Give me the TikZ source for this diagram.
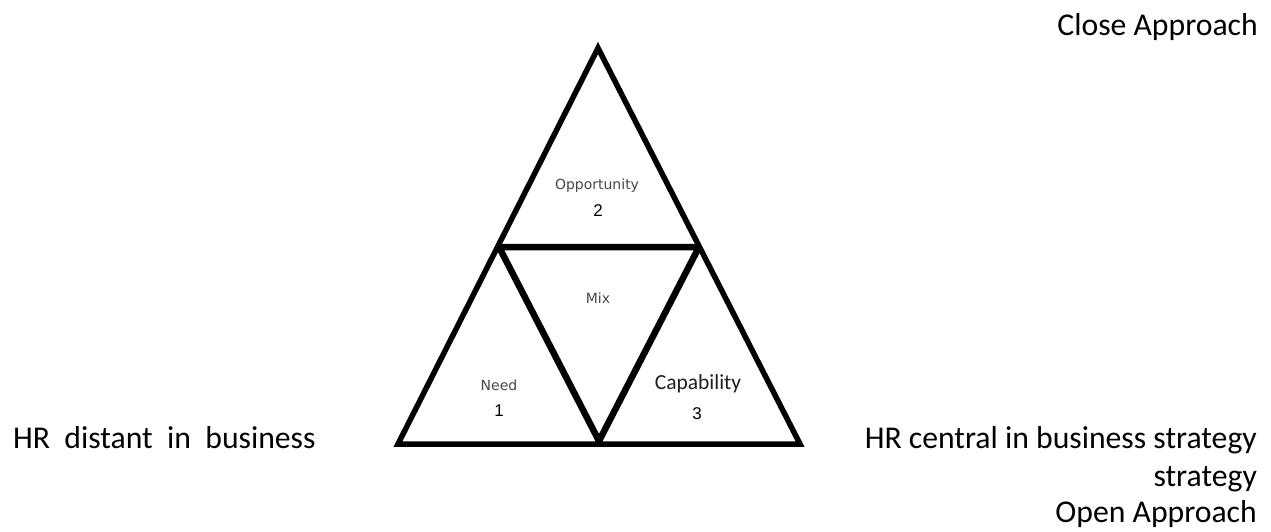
\documentclass[tikz,border=0pt]{standalone}
\usepackage{fontspec}
\setmainfont{Carlito}
\newfontfamily\smallfont{DejaVu Sans}
\newfontfamily\numfont{Liberation Sans}
\begin{document}
\begin{tikzpicture}[x=1pt,y=-1pt,
  bigtext/.style={font=\fontsize{31.7}{36}\selectfont, inner sep=0pt},
  lbl/.style={font=\smallfont\fontsize{14}{16}\selectfont, text=black!72, inner sep=0pt},
  num/.style={font=\numfont\fontsize{17}{19}\selectfont, inner sep=0pt},
  outer/.style={line width=5.5pt, line join=miter, miter limit=4},
  inner/.style={line width=6.5pt, line join=bevel}]
\useasboundingbox (0,0) rectangle (1271,531);
\fill[white] (0,0) rectangle (1271,531);
\coordinate (A) at (598,48);
\coordinate (BL) at (398,444);
\coordinate (BR) at (800,444);
\coordinate (ML) at (499,247);
\coordinate (MR) at (699,247);
\coordinate (BM) at (599,441);
\draw[outer] (A) -- (BL) -- (BR) -- cycle;
\draw[inner] (ML) -- (MR) -- (BM) -- cycle;
\node[lbl, anchor=center] (opp) at (597,186) {Opportunity};
\node[num, anchor=center] (n2) at (598,211) {2};
\node[lbl, anchor=center] (mix) at (598,298) {Mix};
\node[lbl, anchor=center] (need) at (499,385) {Need};
\node[num, anchor=center] (n1) at (499,411) {1};
\node[font=\fontsize{21.5}{24}\selectfont, inner sep=0pt, text=black!88, anchor=center] (cap) at (698,384) {Capability};
\node[num, anchor=center] (n3) at (697,414) {3};
\node[bigtext, anchor=base east] (close) at (1258,35) {Close Approach};
\node[bigtext, anchor=base west] (distant) at (13,448) {HR\ \ distant\ \ in\ \ business};
\node[bigtext, anchor=base east] (central) at (1257,448) {HR central in business strategy};
\node[bigtext, anchor=base east] (strat) at (1257,486) {strategy};
\node[bigtext, anchor=base east] (open) at (1257,522) {Open Approach};
\end{tikzpicture}
\end{document}
